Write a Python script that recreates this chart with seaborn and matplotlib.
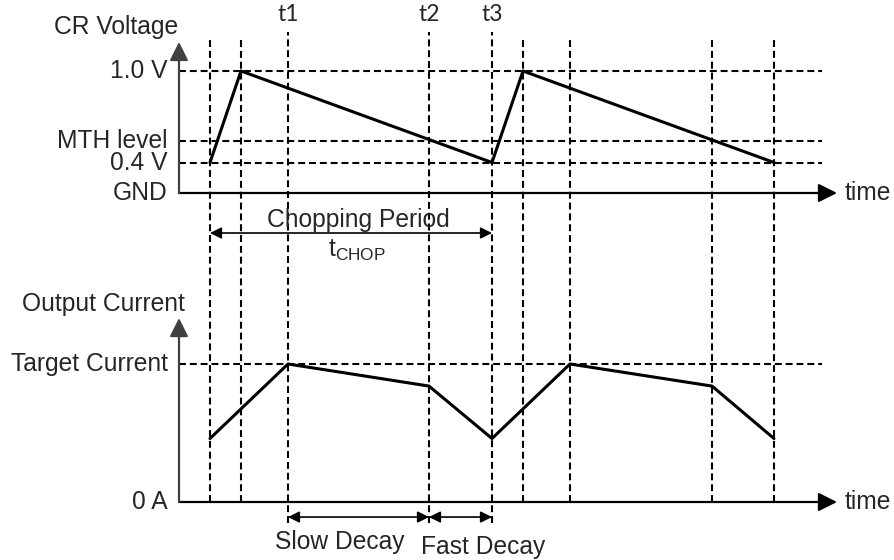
import matplotlib
matplotlib.use("Agg")
import matplotlib.pyplot as plt
import seaborn as sns

# dashed marker times (time-axis units, 0 = axis origin)
marker_times = [3.1, 6.2, 10.9, 25.0, 31.3, 34.4, 39.1, 53.3, 59.5]
named_times = [10.9, 25.0, 31.3]
named_labels = ["t1", "t2", "t3"]

# CR voltage, schematic level heights (GND = 0, 1.0 V = 1)
cr_time = [3.1, 6.2, 31.3, 34.4, 59.5]
cr_level = [0.25, 1.0, 0.25, 1.0, 0.25]
cr_ticks = [0.0, 0.25, 0.43, 1.0]
cr_labels = ["GND", "0.4 V", "MTH level", "1.0 V"]

# output current (0 A = 0, target current = 1)
cur_time = [3.1, 10.9, 25.0, 31.3, 39.1, 53.3, 59.5]
cur_level = [0.46, 1.0, 0.84, 0.46, 1.0, 0.84, 0.46]
cur_ticks = [0.0, 1.0]
cur_labels = ["0 A", "Target Current"]

chop_span = [3.1, 31.3]
slow_span = [10.9, 25.0]
fast_span = [25.0, 31.3]

sns.set_style("white")
plt.rcParams["font.family"] = ["Liberation Sans", "DejaVu Sans"]
plt.rcParams["mathtext.fontset"] = "custom"
plt.rcParams["mathtext.rm"] = "Liberation Sans"
plt.rcParams["lines.scale_dashes"] = False

W, H = 895, 560
fig = plt.figure(figsize=(W / 100, H / 100), dpi=100)

# time axis: x pixel = 179 + 10 * t
xlim = (-17.9, (W - 179) / 10)


def make_ax(y0, unit):
    ax = fig.add_axes([0, 0, 1, 1], facecolor="none")
    ax.set_xlim(*xlim)
    ax.set_ylim(-(H - y0) / unit, y0 / unit)
    ax.axis("off")
    return ax


ax_v = make_ax(193, 122)   # CR voltage panel
ax_i = make_ax(502, 138)   # output current panel


def frac(py):
    return 1 - py / H


dash = (0, (5, 2.8))
fs = 17.7

# vertical dashed markers
for t in marker_times:
    if t in named_times:
        ax_v.axvline(t, frac(523), frac(32), color="black", lw=1.5, ls=dash)
    else:
        ax_v.axvline(t, frac(502), frac(38), color="black", lw=1.5, ls=dash)
for t, lab in zip(named_times, named_labels):
    ax_v.text(t, 1.46, lab, ha="center", va="center", fontsize=16.5,
              family=["Lato", "DejaVu Sans"])

# horizontal dashed levels
ax_v.hlines(cr_ticks[1:], 0, 64.3, color="black", lw=1.5, ls=dash)
ax_i.hlines(cur_ticks[1:], 0, 64.3, color="black", lw=1.5, ls=dash)

# waveforms
sns.lineplot(x=cr_time, y=cr_level, ax=ax_v, sort=False, estimator=None,
             color="black", lw=2.2)
sns.lineplot(x=cur_time, y=cur_level, ax=ax_i, sort=False, estimator=None,
             color="black", lw=2.2)

# axes with arrows
for ax, top in [(ax_v, 1.238), (ax_i, 1.333)]:
    ax.annotate("", xy=(65.8, 0), xytext=(0, 0),
                arrowprops=dict(arrowstyle="-|>", color="black", lw=1.6,
                                mutation_scale=28, shrinkA=0, shrinkB=0))
    ax.annotate("", xy=(0, top), xytext=(0, 0),
                arrowprops=dict(arrowstyle="-|>", color="#404040", lw=1.6,
                                mutation_scale=28, shrinkA=0, shrinkB=0))
    ax.text(66.6, 0, "time", ha="left", va="center", fontsize=fs)

for y, lab in zip(cr_ticks, cr_labels):
    ax_v.text(-1.1, y, lab, ha="right", va="center", fontsize=fs)
for y, lab in zip(cur_ticks, cur_labels):
    ax_i.text(-1.1, y, lab, ha="right", va="center", fontsize=fs)
ax_v.text(-0.1, 1.36, "CR Voltage", ha="right", va="center", fontsize=fs)
ax_i.text(0.6, 1.435, "Output Current", ha="right", va="center", fontsize=fs)

# chopping period
arrow2 = dict(arrowstyle="<|-|>", color="black", lw=1.2, mutation_scale=17,
              shrinkA=0, shrinkB=0)
ax_v.annotate("", xy=(chop_span[1], -0.328), xytext=(chop_span[0], -0.328),
              arrowprops=arrow2)
ax_v.text(17.9, -0.221, "Chopping Period", ha="center", va="center", fontsize=fs)
ax_v.text(17.8, -0.467, r"t$_{\mathrm{CHOP}}$", ha="center", va="center",
          fontsize=fs)

# decay spans
for span in (slow_span, fast_span):
    ax_i.annotate("", xy=(span[1], -0.109), xytext=(span[0], -0.109),
                  arrowprops=arrow2)
ax_i.text(16.1, -0.29, "Slow Decay", ha="center", va="center", fontsize=fs)
ax_i.text(30.4, -0.326, "Fast Decay", ha="center", va="center", fontsize=fs)

fig.savefig("out.png", dpi=100)
